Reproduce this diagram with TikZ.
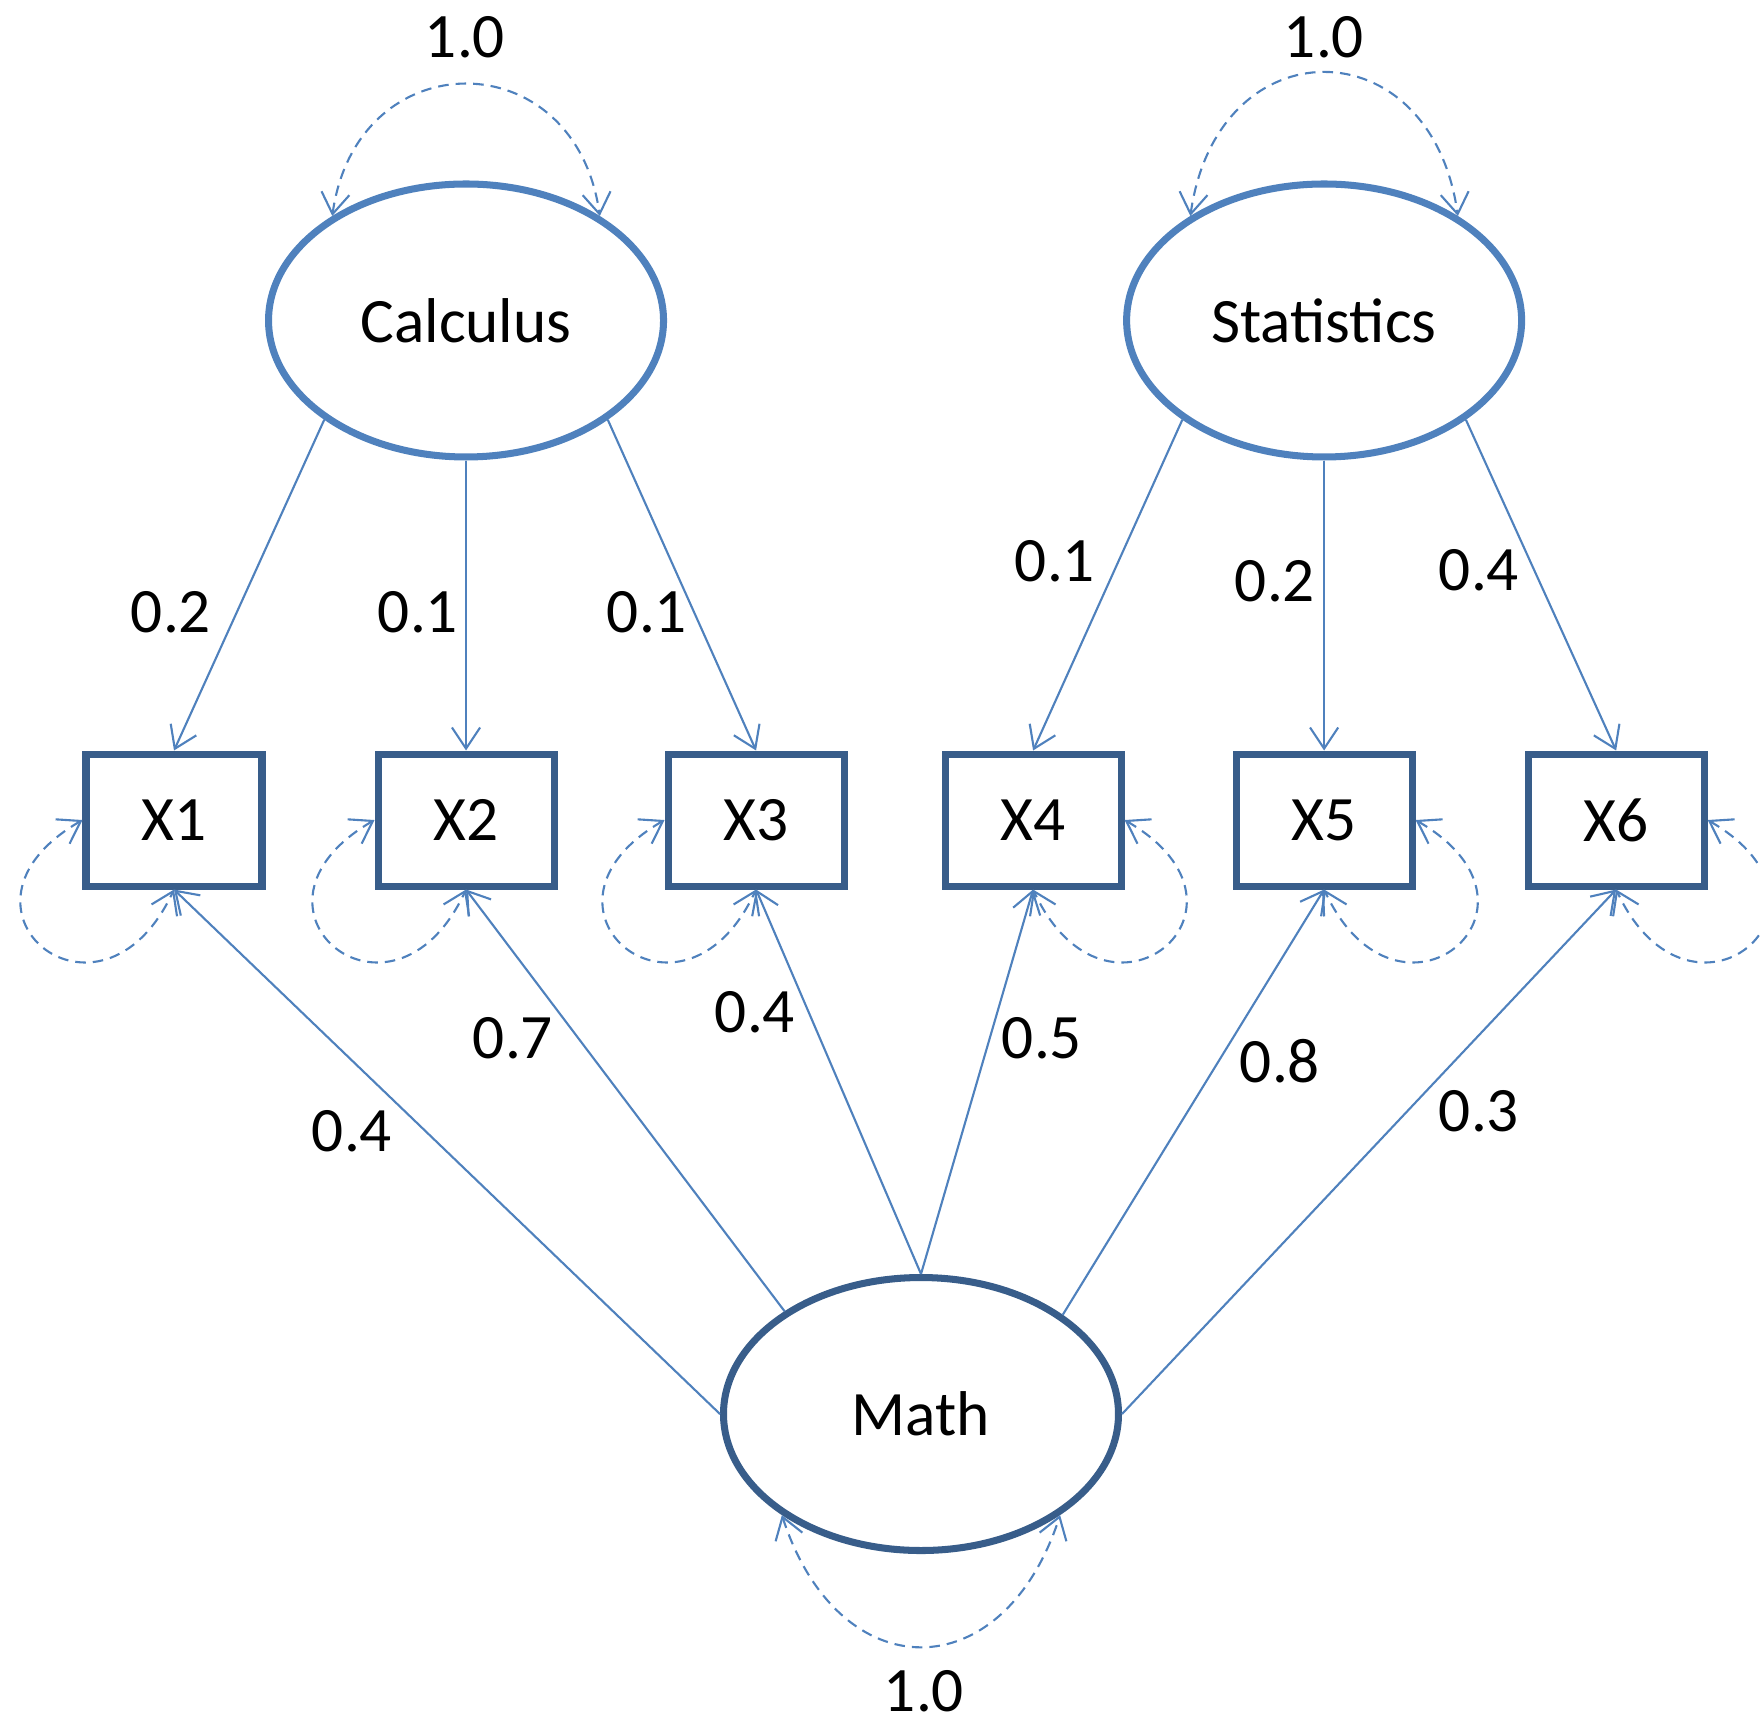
\documentclass[tikz,border=0pt]{standalone}
\usepackage{fontspec}
\setmainfont{Carlito}
\usepackage{xcolor}
\usepackage{tikz}
\usetikzlibrary{shapes.geometric, arrows.meta, positioning}
\definecolor{semline}{HTML}{4F81BD}
\definecolor{semdark}{HTML}{385D8A}
\tikzset{
  latent/.style={
    ellipse, draw=#1, line width=2pt, fill=white,
    minimum width=3.95cm, minimum height=2.73cm, inner sep=0pt
  },
  latent/.default=semline,
  observed/.style={
    rectangle, draw=semdark, line width=2pt, fill=white,
    minimum width=1.76cm, minimum height=1.32cm
  },
  load/.style={-{Straight Barb[length=6pt,width=8pt]}, semline, line width=0.6pt},
  var/.style={{Straight Barb[length=6pt,width=8pt]}-{Straight Barb[length=6pt,width=8pt]},
    semline, line width=0.6pt, dash pattern=on 3pt off 2pt},
  coef/.style={inner sep=1pt}
}

\begin{document}
\begin{tikzpicture}[font=\fontsize{18}{22}\selectfont]
  \useasboundingbox (0,0) rectangle (17.6,-17.22);
  \clip (0,0) rectangle (17.6,-17.22);

  % indicators
  \node[observed] (x1) at (1.74,-8.20) {X1};
  \node[observed, right=1.09cm of x1] (x2) {X2};
  \node[observed, right=1.07cm of x2] (x3) {X3};
  \node[observed, right=0.94cm of x3] (x4) {X4};
  \node[observed, right=1.08cm of x4] (x5) {X5};
  \node[observed, right=1.09cm of x5] (x6) {X6};

  % factors
  \node[latent, above=2.9cm of x2] (calc) {Calculus};
  \node[latent, above=2.9cm of x5] (stat) {Statistics};
  \node[latent=semdark] (math) at (9.21,-14.14) {Math};

  % loadings
  \foreach \lat/\ang/\obs in {calc/215/x1, calc/270/x2, calc/-35/x3, stat/215/x4, stat/270/x5, stat/-35/x6}
    \draw[load] (\lat.\ang) -- (\obs.north);
  \foreach \ang/\obs in {180/x1, 143/x2, 90/x3, 90/x4, 35/x5, 0/x6}
    \draw[load] (math.\ang) -- (\obs.south);

  % variances
  \foreach \obs in {x1,x2,x3}
    \draw[var] (\obs.west) to[out=210, in=245, looseness=3.9] (\obs.south);
  \foreach \obs in {x4,x5,x6}
    \draw[var] (\obs.east) to[out=-30, in=-65, looseness=3.9] (\obs.south);
  \draw[var] (calc.142) to[out=82, in=98, looseness=1.7] (calc.38);
  \draw[var] (stat.142) to[out=82, in=98, looseness=1.85] (stat.38);
  \draw[var] (math.216) to[out=-72, in=-108, looseness=1.7] (math.324);

  % coefficients
  \foreach \lbl/\x/\y/\val in {vc/4.65/-0.37/1.0, vs/13.24/-0.37/1.0, vm/9.24/-16.91/1.0,
      lc1/1.71/-6.12/0.2, lc2/4.18/-6.12/0.1, lc3/6.47/-6.12/0.1,
      ls4/10.55/-5.61/0.1, ls5/12.75/-5.81/0.2, ls6/14.79/-5.70/0.4,
      lm1/3.52/-11.31/0.4, lm2/5.13/-10.38/0.7, lm3/7.55/-10.12/0.4,
      lm4/10.42/-10.38/0.5, lm5/12.80/-10.61/0.8, lm6/14.79/-11.11/0.3}
    \node[coef] (\lbl) at (\x,\y) {\val};
\end{tikzpicture}
\end{document}
